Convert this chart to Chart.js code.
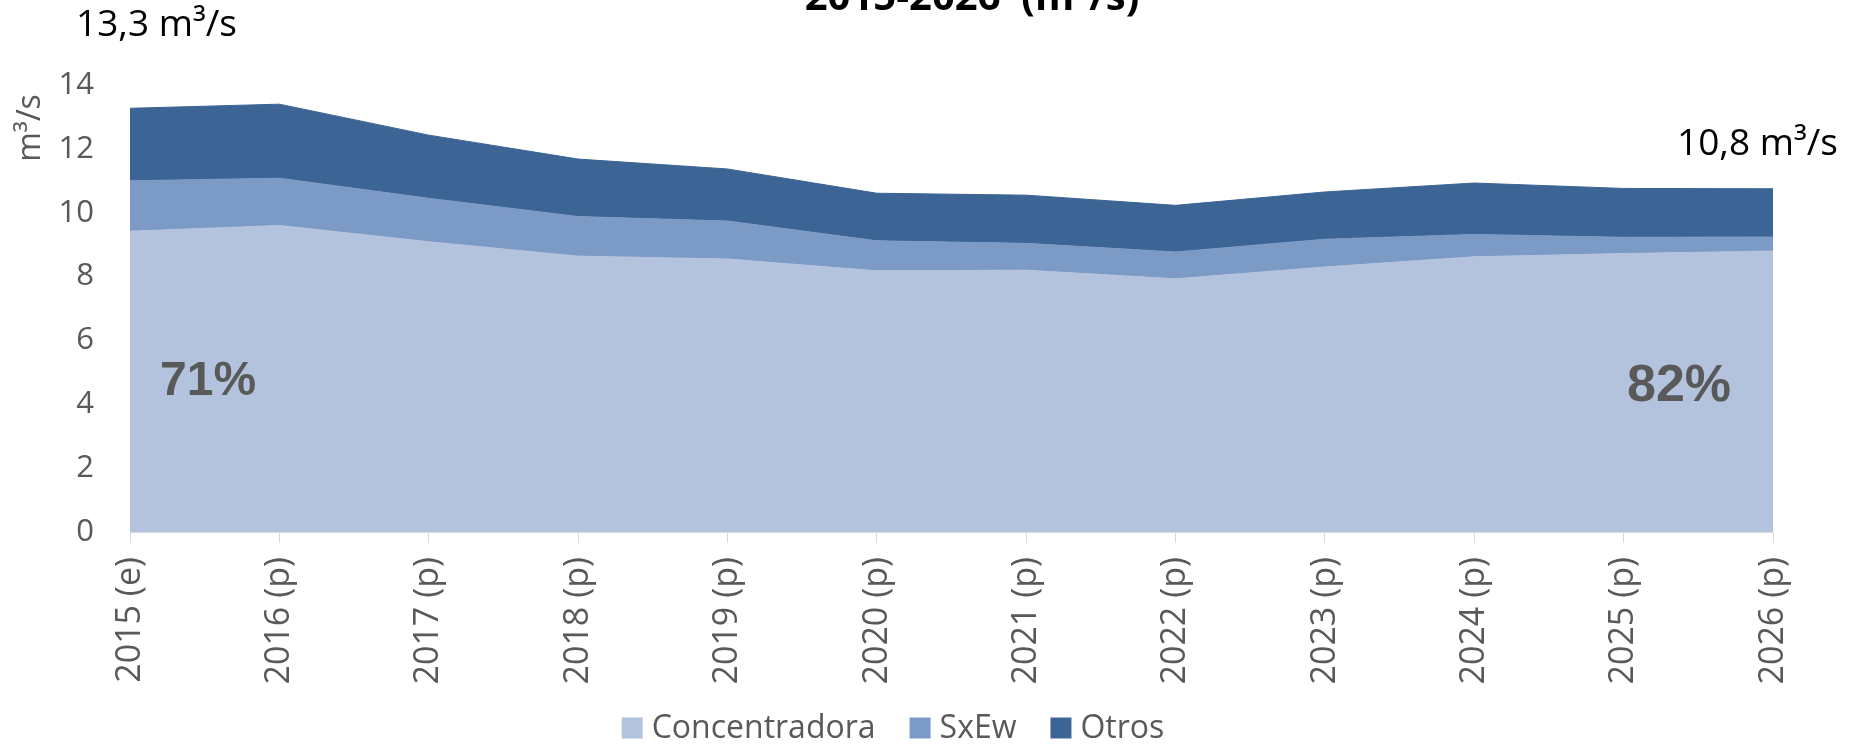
<!DOCTYPE html>
<html>
<head>
<meta charset="utf-8">
<script src="https://cdn.jsdelivr.net/npm/chart.js@4"></script>
<style>
html, body { margin: 0; padding: 0; background: #fff; }
</style>
</head>
<body>
<canvas id="chart" width="1855" height="744"></canvas>
<script>
const years = ['2015 (e)', '2016 (p)', '2017 (p)', '2018 (p)', '2019 (p)', '2020 (p)',
               '2021 (p)', '2022 (p)', '2023 (p)', '2024 (p)', '2025 (p)', '2026 (p)'];
const concentradora = [9.42, 9.60, 9.09, 8.64, 8.55, 8.18, 8.20, 7.93, 8.30, 8.62, 8.72, 8.80];
const sxew = [1.58, 1.48, 1.36, 1.24, 1.19, 0.94, 0.84, 0.84, 0.87, 0.70, 0.51, 0.44];
const otros = [2.27, 2.32, 1.98, 1.80, 1.63, 1.49, 1.51, 1.46, 1.48, 1.61, 1.53, 1.51];
const seriesNames = ['Concentradora', 'SxEw', 'Otros'];
const seriesColors = ['#b4c3dd', '#7c9ac6', '#3c6494'];
const yMax = 14;
const yStep = 2;
const titleText = '2015-2026  (m³/s)';
const yTitle = 'm³/s';
const firstTotal = '13,3 m³/s';
const lastTotal = '10,8 m³/s';
const firstShare = '71%';
const lastShare = '82%';

const FONT = "'Open Sans', sans-serif";
const GREY = '#595959';

// extra texts and the legend, drawn on top of the chart
const extras = {
    id: 'extras',
    afterDraw(chart) {
        const ctx = chart.ctx;
        ctx.save();

        // title, mostly cut off at the top in the original
        ctx.fillStyle = '#000';
        ctx.font = 'bold 40px ' + FONT;
        ctx.textAlign = 'center';
        ctx.textBaseline = 'alphabetic';
        ctx.fillText(titleText, 972, 10);

        // totals
        ctx.font = '37px ' + FONT;
        ctx.textAlign = 'left';
        ctx.textBaseline = 'middle';
        ctx.fillText(firstTotal, 76, 25);
        ctx.fillText(lastTotal, 1677, 144);

        // shares
        ctx.fillStyle = GREY;
        ctx.font = "bold 48px 'Liberation Sans', Arial, sans-serif";
        ctx.fillText(firstShare, 160, 382);
        ctx.font = "bold 52px 'Liberation Sans', Arial, sans-serif";
        ctx.fillText(lastShare, 1627, 387);

        // y title
        ctx.font = '32px ' + FONT;
        ctx.translate(31, 128);
        ctx.rotate(-Math.PI / 2);
        ctx.textAlign = 'center';
        ctx.fillText(yTitle, 0, 0);
        ctx.restore();

        // legend
        ctx.save();
        ctx.font = '32px ' + FONT;
        ctx.textBaseline = 'middle';
        ctx.textAlign = 'left';
        const box = 21, gap = 9, space = 34, ly = 728;
        const items = chart.data.datasets.map(ds => ({ label: ds.label, color: ds.backgroundColor, w: ctx.measureText(ds.label).width }));
        let total = 0;
        items.forEach((it, i) => { total += box + gap + it.w + (i < items.length - 1 ? space : 0); });
        let x = 893 - total / 2;
        items.forEach(it => {
            ctx.fillStyle = it.color;
            ctx.fillRect(x, ly - box / 2, box, box);
            x += box + gap;
            ctx.fillStyle = GREY;
            ctx.fillText(it.label, x, ly + 1);
            x += it.w + space;
        });
        ctx.restore();
    }
};

const series = [concentradora, sxew, otros];

new Chart(document.getElementById('chart'), {
    type: 'line',
    data: {
        labels: years,
        datasets: series.map((values, i) => ({
            label: seriesNames[i],
            data: values,
            backgroundColor: seriesColors[i],
            borderColor: seriesColors[i],
            borderWidth: 1,
            pointRadius: 0,
            tension: 0,
            fill: i === 0 ? 'origin' : '-1'
        }))
    },
    options: {
        responsive: false,
        animation: false,
        devicePixelRatio: 1,
        layout: { padding: { left: 0, right: 82, top: 85, bottom: 0 } },
        plugins: {
            legend: { display: false },
            tooltip: { enabled: false }
        },
        scales: {
            x: {
                grid: { display: true, drawOnChartArea: false, drawTicks: true, tickLength: 11, color: '#d9d9d9' },
                border: { display: true, color: '#d9d9d9' },
                ticks: { minRotation: 90, maxRotation: 90, padding: 14, color: GREY, font: { family: FONT, size: 34 } },
                afterFit(scale) { scale.height = 212; }
            },
            y: {
                stacked: true,
                min: 0,
                max: yMax,
                grid: { display: false, drawTicks: false },
                border: { display: false },
                ticks: { stepSize: yStep, padding: 36, color: GREY, font: { family: FONT, size: 31 } },
                afterFit(scale) { scale.width = 130; }
            }
        }
    },
    plugins: [extras]
});
</script>
</body>
</html>
